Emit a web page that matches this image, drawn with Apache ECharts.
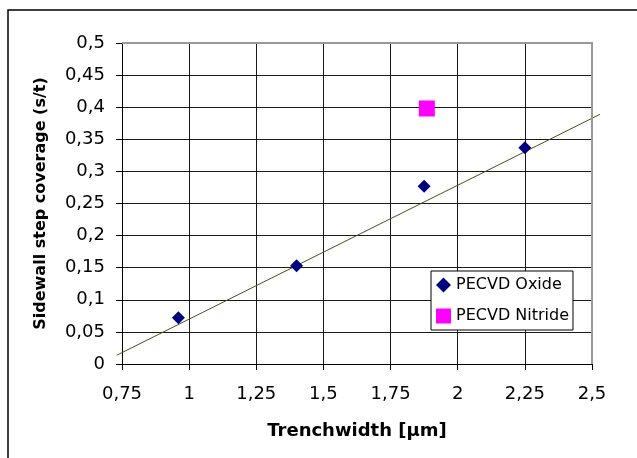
<!DOCTYPE html>
<html>
<head>
<meta charset="utf-8">
<script src="https://cdn.jsdelivr.net/npm/echarts@6/dist/echarts.min.js"></script>
<style>html,body{margin:0;padding:0;background:#fff;}#c{width:637px;height:458px;}</style>
</head>
<body>
<div id="c"></div>
<script>
// Data
const oxideX = [0.96, 1.40, 1.875, 2.25];
const oxideY = [0.072, 0.153, 0.277, 0.337];
const nitrideX = [1.885];
const nitrideY = [0.398];
// Linear trendline through the oxide points (end points)
const trendX = [0.73, 2.53];
const trendY = [0.0136, 0.389];
const xTicks = [0.75, 1, 1.25, 1.5, 1.75, 2, 2.25, 2.5];
const yTicks = [0, 0.05, 0.1, 0.15, 0.2, 0.25, 0.3, 0.35, 0.4, 0.45, 0.5];
const seriesNames = ['PECVD Oxide', 'PECVD Nitride'];
const xTitle = 'Trenchwidth [μm]';
const yTitle = 'Sidewall step coverage (s/t)';

const zip = (a, b) => a.map((v, i) => [v, b[i]]);
const fmt = v => String(+v.toFixed(2)).replace('.', ',');
const FONT = 'DejaVu Sans';

const chart = echarts.init(document.getElementById('c'), null, {renderer: 'canvas'});
const option = {
  animation: false,
  backgroundColor: '#fff',
  grid: {left: 122, top: 43, right: 45, bottom: 94, containLabel: false},
  xAxis: {
    type: 'value', min: xTicks[0], max: xTicks[xTicks.length - 1], interval: 0.25,
    name: xTitle, nameLocation: 'middle', nameGap: 58,
    nameTextStyle: {fontFamily: FONT, fontWeight: 'bold', fontSize: 18, color: '#000'},
    axisLine: {show: true, onZero: false, lineStyle: {color: '#000', width: 1}},
    axisTick: {show: true, inside: false, length: 6, lineStyle: {color: '#000'}},
    axisLabel: {fontFamily: FONT, fontSize: 18, color: '#000', margin: 21, formatter: fmt},
    splitLine: {show: true, lineStyle: {color: '#1a1a1a', width: 1}}
  },
  yAxis: {
    type: 'value', min: yTicks[0], max: yTicks[yTicks.length - 1], interval: 0.05,
    name: yTitle, nameLocation: 'middle', nameGap: 73, nameRotate: 90,
    nameTextStyle: {fontFamily: FONT, fontWeight: 'bold', fontSize: 16, color: '#000'},
    axisLine: {show: true, onZero: false, lineStyle: {color: '#000', width: 1}},
    axisTick: {show: true, inside: false, length: 6, lineStyle: {color: '#000'}},
    axisLabel: {fontFamily: FONT, fontSize: 18, color: '#000', margin: 17, formatter: fmt},
    splitLine: {show: true, lineStyle: {color: '#1a1a1a', width: 1}}
  },
  legend: {
    left: 431, top: 271, orient: 'vertical',
    data: [{name: seriesNames[0], icon: 'diamond'}, {name: seriesNames[1], icon: 'rect'}],
    itemWidth: 15, itemHeight: 15, itemGap: 15, itemTextGap: 4,
    padding: [6, 4, 6, 5],
    backgroundColor: '#fff', borderColor: '#000', borderWidth: 1, borderRadius: 0,
    textStyle: {fontFamily: FONT, fontSize: 16, color: '#000'},
    selectedMode: false
  },
  series: [
    {
      name: 'trend', type: 'custom', clip: false, silent: true, z: 3,
      data: [[trendX[0], trendY[0], trendX[1], trendY[1]]],
      encode: {x: [0, 2], y: [1, 3]},
      renderItem: function (params, api) {
        const p0 = api.coord([api.value(0), api.value(1)]);
        const p1 = api.coord([api.value(2), api.value(3)]);
        return {
          type: 'line',
          shape: {x1: p0[0], y1: p0[1], x2: p1[0], y2: p1[1]},
          style: {stroke: '#4e4e1e', lineWidth: 1}
        };
      }
    },
    {
      name: seriesNames[0], type: 'scatter', data: zip(oxideX, oxideY), symbol: 'diamond',
      symbolSize: 13, z: 5, itemStyle: {color: '#000080', opacity: 1}
    },
    {
      name: seriesNames[1], type: 'scatter', data: zip(nitrideX, nitrideY), symbol: 'rect',
      symbolSize: 16, z: 5, itemStyle: {color: '#ff00ff', opacity: 1}
    }
  ]
};
chart.setOption(option);

// decorative frame: gray top/right plot border, outer chart frame
const tl = chart.convertToPixel({gridIndex: 0}, [xTicks[0], yTicks[yTicks.length - 1]]);
const br = chart.convertToPixel({gridIndex: 0}, [xTicks[xTicks.length - 1], yTicks[0]]);
chart.setOption({
  graphic: [
    {type: 'polyline', z: 4, silent: true,
     shape: {points: [[tl[0], tl[1]], [br[0], tl[1]], [br[0], br[1]]]},
     style: {stroke: '#999', lineWidth: 2, fill: null}},
    {type: 'rect', z: 10, silent: true,
     shape: {x: 8, y: 10, width: 700, height: 500},
     style: {stroke: '#000', lineWidth: 1.5, fill: null}}
  ]
});
</script>
</body>
</html>
